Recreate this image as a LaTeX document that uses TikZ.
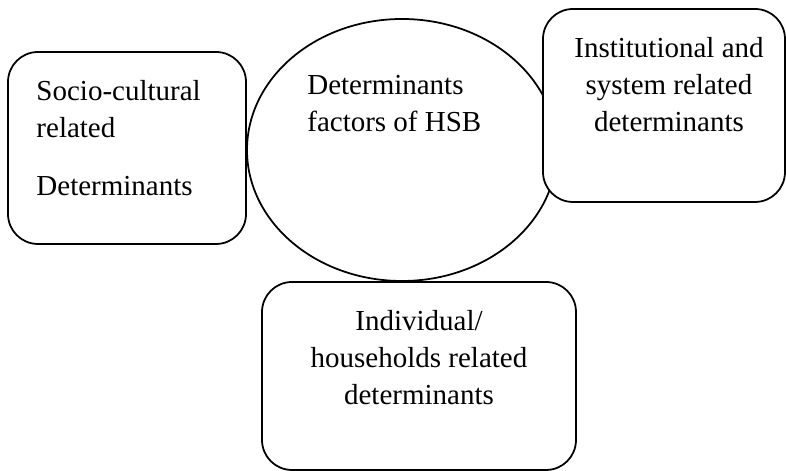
\documentclass[tikz,border=0pt]{standalone}
\usepackage{fontspec}
\setmainfont{Liberation Serif}
\usetikzlibrary{positioning, calc, shapes.geometric}
\newcommand{\hsbfont}{\fontsize{16.5}{21}\selectfont}

\begin{document}
\begin{tikzpicture}[
  detbox/.style={draw, fill=white, line width=1pt, rounded corners=0.6cm},
  dettext/.style={inner sep=0pt, font=\hsbfont}]
  \useasboundingbox (0,0) rectangle (15.72,9.42);
  % central ellipse first, the boxes sit on top of it
  \node[draw, ellipse, line width=1pt, minimum width=6.2cm,
    minimum height=5.24cm] (hsb) at (8.04,6.42) {};
  \node[detbox, minimum width=4.76cm, minimum height=3.84cm] (socio) at (2.54,6.46) {};
  \node[detbox, minimum width=4.84cm, minimum height=3.86cm] (inst) at (13.28,7.31) {};
  \node[detbox, minimum width=6.28cm, minimum height=3.76cm] (indiv) at (8.38,1.90) {};
  % texts
  \node[dettext, align=left, below right=0.58cm and 0.58cm of socio.north west]
    (sociotext) {Socio-cultural\\related\\[0.42cm]Determinants};
  \node[dettext, align=left, anchor=north west] (hsbtext)
    at ($(hsb.center)+(-1.90,1.50)$) {Determinants\\factors of HSB};
  \node[dettext, align=center, below=0.58cm of inst.north, xshift=0.1cm]
    (insttext) {Institutional and\\system related\\determinants};
  \node[dettext, align=center, below=0.58cm of indiv.north]
    (indivtext) {Individual/\\households related\\determinants};
\end{tikzpicture}
\end{document}
